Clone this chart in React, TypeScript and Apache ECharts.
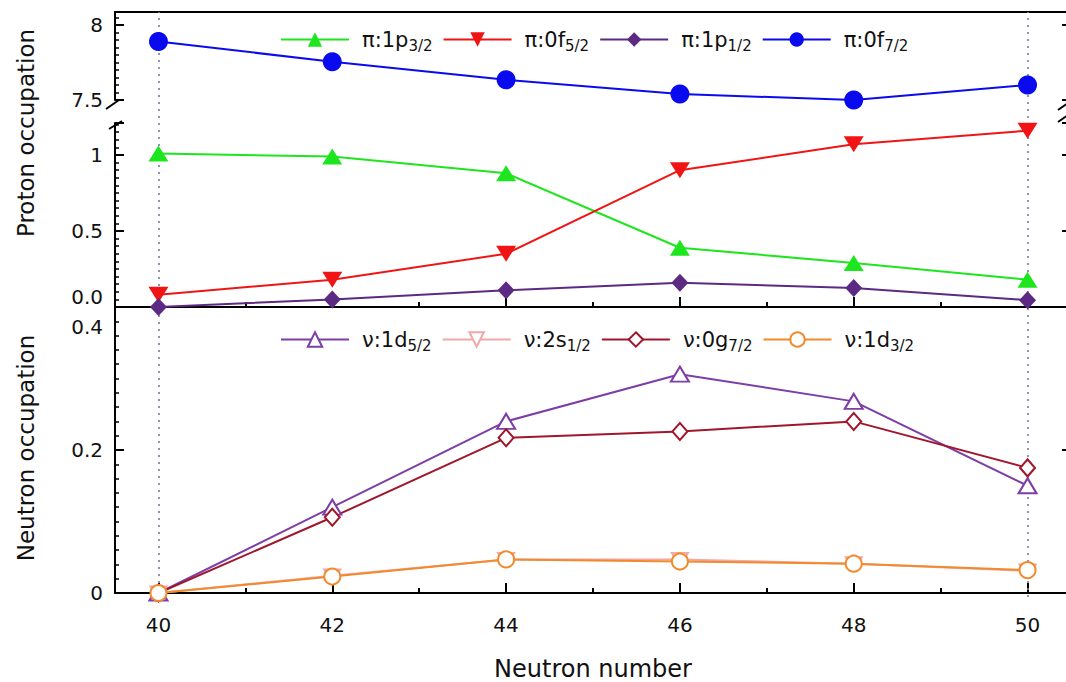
import React, { useEffect, useRef } from "react";
import * as echarts from "echarts";

// ---- data ----
const neutronNumbers = [40, 42, 44, 46, 48, 50];
const xMajorTicks = [40, 42, 44, 46, 48, 50];
const xMinorTicks = [41, 43, 45, 47, 49];
const referenceLines = [40, 50];

// proton occupations
const pi1p32 = [1.01, 0.99, 0.88, 0.39, 0.29, 0.18];
const pi0f52 = [0.08, 0.18, 0.35, 0.9, 1.07, 1.16];
const pi1p12 = [0.0, 0.05, 0.11, 0.16, 0.125, 0.045];
const pi0f72 = [7.89, 7.755, 7.635, 7.54, 7.5, 7.6];

// neutron occupations
const nu1d52 = [0, 0.12, 0.24, 0.306, 0.268, 0.15];
const nu2s12 = [0, 0.024, 0.047, 0.047, 0.041, 0.031];
const nu0g72 = [0, 0.106, 0.217, 0.226, 0.24, 0.175];
const nu1d32 = [0, 0.023, 0.047, 0.044, 0.041, 0.032];

const protonNames = ["π:1p3/2", "π:0f5/2", "π:1p1/2", "π:0f7/2"];
const neutronNames = ["ν:1d5/2", "ν:2s1/2", "ν:0g7/2", "ν:1d3/2"];

const FONT = "DejaVu Sans";
const BLACK = "#111";

const pairs = (vals: number[]) => neutronNumbers.map((x, i) => [x, vals[i]]);

const legendFormatter = (n: string) => `{m|${n.slice(0, -3)}}{s|${n.slice(-3)}}`;

const legendBase = {
  orient: "horizontal",
  left: 280,
  padding: 0,
  itemWidth: 68,
  itemHeight: 18,
  itemGap: 10,
  formatter: legendFormatter,
  textStyle: {
    color: BLACK,
    fontFamily: FONT,
    fontSize: 21,
    rich: {
      m: { fontFamily: FONT, fontSize: 21, color: BLACK, padding: [0, 0, 0, 8] },
      s: { fontFamily: FONT, fontSize: 15, color: BLACK, padding: [12, 4, 0, 0] },
    },
  },
};

const xBase = (gridIndex: number) => ({
  type: "value",
  gridIndex,
  min: 39.5,
  max: 50.5,
  splitLine: { show: false },
});

const yLabelStyle = { color: BLACK, fontFamily: FONT, fontSize: 20, margin: 12 };

const isMult = (v: number, step: number) => Math.abs(v / step - Math.round(v / step)) < 1e-6;

const yAxisFor = (gridIndex: number, min: number, max: number, interval: number, pos: string, formatter: any, rich?: any) => ({
  type: "value",
  gridIndex,
  position: pos,
  min,
  max,
  interval,
  splitLine: { show: false },
  axisLine: { show: pos === "left", onZero: false, lineStyle: { color: "#000", width: 2 } },
  axisTick: { show: true, inside: true, length: 9, lineStyle: { color: "#000", width: 2 } },
  minorTick: { show: true, splitNumber: 10, length: 4, lineStyle: { color: "#000", width: 1.5 } },
  axisLabel: pos === "left"
    ? { show: true, ...yLabelStyle, formatter, rich }
    : { show: false },
});

export default function App() {
  const ref = useRef<HTMLDivElement>(null);

  useEffect(() => {
    if (!ref.current) return;
    const chart = echarts.init(ref.current, undefined, { renderer: "svg" });

    const topUpperFmt = (v: number) => (isMult(v, 0.5) ? (isMult(v, 1) ? String(Math.round(v)) : v.toFixed(1)) : "");
    const topLowerFmt = (v: number) => {
      if (!isMult(v, 0.5)) return "";
      if (Math.abs(v) < 1e-9) return "{up|0.0}";
      if (isMult(v, 1)) return String(Math.round(v));
      return v.toFixed(1);
    };
    const bottomFmt = (v: number) => {
      if (!isMult(v, 0.2)) return "";
      if (Math.abs(v) < 1e-9) return "0";
      if (Math.abs(v - 0.4) < 1e-9) return "{dn|0.4}";
      return v.toFixed(1);
    };

    const labelRich = {
      up: { fontFamily: FONT, fontSize: 20, color: BLACK, padding: [0, 0, 20, 0] },
      dn: { fontFamily: FONT, fontSize: 20, color: BLACK, padding: [40, 0, 0, 0] },
    };

    const solidSeries = (name: string, vals: number[], color: string, symbol: string, size: any, rotate: number, xi: number, yi: number) => ({
      name,
      type: "line",
      xAxisIndex: xi,
      yAxisIndex: yi,
      data: pairs(vals),
      clip: false,
      symbol,
      symbolSize: size,
      symbolRotate: rotate,
      lineStyle: { color, width: 2 },
      itemStyle: { color, borderColor: color, borderWidth: 0 },
      z: 5,
    });

    const openSeries = (name: string, vals: number[], color: string, symbol: string, size: any, rotate: number) => ({
      name,
      type: "line",
      xAxisIndex: 3,
      yAxisIndex: 2,
      data: pairs(vals),
      clip: false,
      symbol,
      symbolSize: size,
      symbolRotate: rotate,
      lineStyle: { color, width: 2 },
      itemStyle: { color: "#fff", borderColor: color, borderWidth: 2 },
      z: 5,
    });

    const markLineSeries = (xi: number, yi: number) => ({
      type: "line",
      xAxisIndex: xi,
      yAxisIndex: yi,
      data: [],
      silent: true,
      z: 1,
      markLine: {
        silent: true,
        symbol: ["none", "none"],
        label: { show: false },
        lineStyle: { type: [2, 5], color: "#7a7a9a", width: 1.6 },
        data: referenceLines.map((v) => ({ xAxis: v })),
      },
    });

    const option = {
      animation: false,
      backgroundColor: "#ffffff",
      grid: [
        { left: 115, top: 12, width: 956, height: 88 },
        { left: 115, top: 123, width: 956, height: 184 },
        { left: 115, top: 307, width: 956, height: 290 },
        { left: 115, top: 12, width: 956, height: 295 },
        { left: 115, top: 307, width: 956, height: 290 },
      ],
      legend: [
        { ...legendBase, top: 29, data: protonNames },
        { ...legendBase, top: 329, data: neutronNames },
      ],
      xAxis: [
        {
          ...xBase(0),
          position: "top",
          axisLine: { show: true, onZero: false, lineStyle: { color: "#000", width: 2 } },
          axisTick: { show: false },
          axisLabel: { show: false },
        },
        {
          ...xBase(1),
          position: "bottom",
          axisLine: { show: true, onZero: false, lineStyle: { color: "#000", width: 2 } },
          axisTick: { show: true, inside: true, length: 10, customValues: xMajorTicks, lineStyle: { color: "#000", width: 2 } },
          axisLabel: { show: false },
        },
        {
          ...xBase(1),
          position: "bottom",
          axisLine: { show: false, onZero: false },
          axisTick: { show: true, inside: true, length: 5, customValues: xMinorTicks, lineStyle: { color: "#000", width: 2 } },
          axisLabel: { show: false },
        },
        {
          ...xBase(2),
          position: "bottom",
          name: "Neutron number",
          nameLocation: "middle",
          nameGap: 64,
          nameTextStyle: { color: BLACK, fontFamily: FONT, fontSize: 24 },
          axisLine: { show: true, onZero: false, lineStyle: { color: "#000", width: 2 } },
          axisTick: { show: true, inside: true, length: 10, customValues: xMajorTicks, lineStyle: { color: "#000", width: 2 } },
          axisLabel: { show: true, customValues: xMajorTicks, color: BLACK, fontFamily: FONT, fontSize: 20, margin: 22 },
        },
        {
          ...xBase(2),
          position: "bottom",
          axisLine: { show: false, onZero: false },
          axisTick: { show: true, inside: true, length: 5, customValues: xMinorTicks, lineStyle: { color: "#000", width: 2 } },
          axisLabel: { show: false },
        },
        { ...xBase(3), show: false },
        { ...xBase(4), show: false },
      ],
      yAxis: [
        yAxisFor(0, 7.5, 7.5 + 88 / 150, 0.5, "left", topUpperFmt),
        yAxisFor(1, 0, 184 / 152, 0.5, "left", topLowerFmt, labelRich),
        yAxisFor(2, 0, 0.4, 0.2, "left", bottomFmt, labelRich),
        yAxisFor(0, 7.5, 7.5 + 88 / 150, 0.5, "right", null),
        yAxisFor(1, 0, 184 / 152, 0.5, "right", null),
        yAxisFor(2, 0, 0.4, 0.2, "right", null),
        { type: "value", gridIndex: 3, min: 0, max: 1, show: false },
        { type: "value", gridIndex: 4, min: 0, max: 1, show: false },
      ],
      graphic: [
        {
          type: "text",
          x: 26,
          y: 133,
          rotation: Math.PI / 2,
          style: { text: "Proton occupation", fontFamily: FONT, fontSize: 23, fill: BLACK, align: "center", verticalAlign: "middle" },
        },
        {
          type: "text",
          x: 26,
          y: 448,
          rotation: Math.PI / 2,
          style: { text: "Neutron occupation", fontFamily: FONT, fontSize: 23, fill: BLACK, align: "center", verticalAlign: "middle" },
        },
        { type: "line", shape: { x1: 106, y1: 109, x2: 119, y2: 100 }, style: { stroke: "#000", lineWidth: 2 } },
        { type: "line", shape: { x1: 109, y1: 129, x2: 122, y2: 121 }, style: { stroke: "#000", lineWidth: 2 } },
        { type: "line", shape: { x1: 1058, y1: 110, x2: 1068, y2: 103 }, style: { stroke: "#000", lineWidth: 2 } },
        { type: "line", shape: { x1: 1058, y1: 122, x2: 1068, y2: 115 }, style: { stroke: "#000", lineWidth: 2 } },
      ],
      series: [
        markLineSeries(5, 6),
        markLineSeries(6, 7),
        solidSeries(protonNames[0], pi1p32, "#1ee61e", "triangle", [20, 16], 0, 1, 1),
        solidSeries(protonNames[1], pi0f52, "#f01414", "triangle", [20, 16], 180, 1, 1),
        solidSeries(protonNames[2], pi1p12, "#5c2a82", "diamond", [17, 18], 0, 1, 1),
        solidSeries(protonNames[3], pi0f72, "#0a0aee", "circle", 19, 0, 0, 0),
        openSeries(neutronNames[0], nu1d52, "#7d3ea6", "triangle", [18, 15], 0),
        openSeries(neutronNames[1], nu2s12, "#f0a8a8", "triangle", [16, 13], 180),
        openSeries(neutronNames[2], nu0g72, "#a0162c", "diamond", [15, 17], 0),
        openSeries(neutronNames[3], nu1d32, "#f28a2c", "circle", 16, 0),
      ],
    };

    chart.setOption(option as any);
    return () => chart.dispose();
  }, []);

  return (
    <div
      ref={ref}
      style={{ position: "fixed", left: 0, top: 0, width: 1080, height: 682, background: "#fff" }}
    />
  );
}
